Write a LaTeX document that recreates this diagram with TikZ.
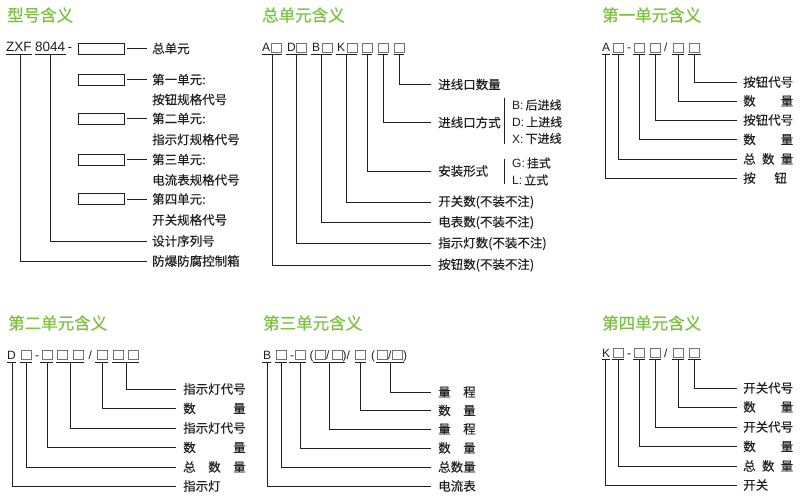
\documentclass[tikz,border=0pt]{standalone}
\usepackage{fontspec}
\setmainfont{Liberation Sans}
\newfontfamily\cjk[FakeBold=0.12]{Noto Sans CJK SC}
\newfontfamily\cjkt[FakeBold=0.8]{Noto Sans CJK SC}
\definecolor{titlegreen}{RGB}{125,194,66}
\definecolor{ink}{RGB}{35,31,32}
\tikzset{
  ttl/.style={anchor=west,inner sep=0pt,text=titlegreen,font=\cjkt\fontsize{16.5}{18}\selectfont},
  codebig/.style={anchor=base west,inner sep=0pt,text=ink,font=\fontsize{13.5}{15}\selectfont},
  code/.style={anchor=base west,inner sep=0pt,text=ink,font=\fontsize{12}{14}\selectfont},
  sq/.style={draw=black!55,line width=0.7pt,minimum width=10pt,minimum height=9pt,inner sep=0pt},
  rbox/.style={draw=ink,line width=0.8pt,minimum width=46pt,minimum height=11pt,inner sep=0pt},
  lab/.style={anchor=west,inner ysep=0pt,inner xsep=7pt,text=ink,font=\cjk\fontsize{12.5}{14}\selectfont},
  labA/.style={lab,inner xsep=5pt},
  labC/.style={lab,inner xsep=6pt},
  sub/.style={anchor=west,inner sep=0pt,text=ink,font=\fontsize{12}{14}\selectfont},
  ln/.style={draw=ink,line width=0.8pt},
}
\newcommand{\jst}[2]{\makebox[#1][s]{#2}}
\begin{document}
\begin{tikzpicture}[x=1pt,y=-1pt]
\useasboundingbox (0,0) rectangle (802,500);
\fill[white] (0,0) rectangle (802,500);

% ---------------- Panel 1 ----------------
\node[ttl] (t1) at (7,15) {型号含义};
\node[codebig] (zxf) at (6,52) {ZXF};
\node[codebig] (n8044) at (35,52) {8044};
\node[codebig] (d1) at (67.5,52) {-};
\draw[ln] (6,54.5) -- (32,54.5);
\draw[ln] (35,54.5) -- (66,54.5);
\coordinate (uz) at (20.5,54.5);
\coordinate (un) at (50.5,54.5);
\node[rbox] (r1) at (101,48.5) {};
\node[rbox] (r2) at (101,79.5) {};
\node[rbox] (r3) at (101,118.5) {};
\node[rbox] (r4) at (101,159.5) {};
\node[rbox] (r5) at (101,199) {};
\node[labA] (a0) at (147,48.5) {总单元};
\node[labA] (a1) at (147,79.5) {第一单元:};
\node[labA] (a1b) at (147,99.5) {按钮规格代号};
\node[labA] (a2) at (147,118.5) {第二单元:};
\node[labA] (a2b) at (147,139.5) {指示灯规格代号};
\node[labA] (a3) at (147,159.5) {第三单元:};
\node[labA] (a3b) at (147,180) {电流表规格代号};
\node[labA] (a4) at (147,199) {第四单元:};
\node[labA] (a4b) at (147,220) {开关规格代号};
\node[labA] (a5) at (147,241) {设计序列号};
\node[labA] (a6) at (147,261) {防爆防腐控制箱};
\draw[ln] ([xshift=3pt]r1.east) -- (a0.west);
\draw[ln] ([xshift=3pt]r2.east) -- (a1.west);
\draw[ln] ([xshift=3pt]r3.east) -- (a2.west);
\draw[ln] ([xshift=3pt]r4.east) -- (a3.west);
\draw[ln] ([xshift=3pt]r5.east) -- (a4.west);
\draw[ln] (un) |- (a5.west);
\draw[ln] (uz) |- (a6.west);

% ---------------- Panel 2 ----------------
\node[ttl] (t2) at (262,15) {总单元含义};
\node[code] (bA) at (262,51.5) {A};
\node[code] (bD) at (287,51.5) {D};
\node[code] (bB) at (312,51.5) {B};
\node[code] (bK) at (337,51.5) {K};
\node[sq] (s21) at (276,47.5) {};
\node[sq] (s22) at (301,47.5) {};
\node[sq] (s23) at (327,47.5) {};
\node[sq] (s24) at (352,47.5) {};
\node[sq] (s25) at (367,47.5) {};
\node[sq] (s26) at (383,47.5) {};
\node[sq] (s27) at (399,47.5) {};
\foreach \a/\b in {262/282,286/307,311/332,336/357,362/372,378/388,394/404}
  \draw[ln] (\a,54.5) -- (\b,54.5);
\coordinate (g1) at (272,54.5);
\coordinate (g2) at (296.5,54.5);
\coordinate (g3) at (321.5,54.5);
\coordinate (g4) at (346.5,54.5);
\coordinate (g5) at (367,54.5);
\coordinate (g6) at (383,54.5);
\coordinate (g7) at (399,54.5);
\node[lab] (b1) at (431,84.5) {进线口数量};
\node[lab] (b2) at (431,122.5) {进线口方式};
\node[lab] (b3) at (431,171) {安装形式};
\node[lab] (b4) at (431,202) {开关数(不装不注)};
\node[lab] (b5) at (431,222.5) {电表数(不装不注)};
\node[lab] (b6) at (431,243.5) {指示灯数(不装不注)};
\node[lab] (b7) at (431,265) {按钮数(不装不注)};
\draw[ln] (g7) |- (b1.west);
\draw[ln] (g6) |- (b2.west);
\draw[ln] (g5) |- (b3.west);
\draw[ln] (g4) |- (b4.west);
\draw[ln] (g3) |- (b5.west);
\draw[ln] (g2) |- (b6.west);
\draw[ln] (g1) |- (b7.west);
\draw[ln] (504,98) -- (504,144);
\draw[ln] (504,159) -- (504,184);
\node[sub] (c1) at (512,105) {B:\,{\cjk 后进线}};
\node[sub] (c2) at (512,122) {D:\,{\cjk 上进线}};
\node[sub] (c3) at (512,138.5) {X:\,{\cjk 下进线}};
\node[sub] (c4) at (512,163) {G:\,{\cjk 挂式}};
\node[sub] (c5) at (512,180) {L:\,{\cjk 立式}};

% ---------------- Panel 3 ----------------
\node[ttl] (t3) at (602,15) {第一单元含义};
\node[code] (pA) at (602,51.5) {A};
\node[code] (p3d) at (627,51.5) {-};
\node[code] (p3s) at (664,51.5) {/};
\node[sq] (s31) at (618,47.5) {};
\node[sq] (s32) at (639,47.5) {};
\node[sq] (s33) at (655,47.5) {};
\node[sq] (s34) at (678,47.5) {};
\node[sq] (s35) at (694.5,47.5) {};
\foreach \a/\b in {602/610,612/624,633/645,649/661,672/684,688/701}
  \draw[ln] (\a,54.5) -- (\b,54.5);
\coordinate (h1) at (605.5,54.5);
\coordinate (h2) at (618,54.5);
\coordinate (h3) at (639,54.5);
\coordinate (h4) at (655,54.5);
\coordinate (h5) at (678,54.5);
\coordinate (h6) at (694.5,54.5);
\node[labC] (e1) at (737,82) {按钮代号};
\node[labC] (e2) at (737,101) {\jst{4em}{数\hfill 量}};
\node[labC] (e3) at (737,120) {按钮代号};
\node[labC] (e4) at (737,139.5) {\jst{4em}{数\hfill 量}};
\node[labC] (e5) at (737,159) {\jst{4em}{总\hfill 数\hfill 量}};
\node[labC] (e6) at (737,178) {\jst{3.5em}{按\hfill 钮}};
\draw[ln] (h6) |- (e1.west);
\draw[ln] (h5) |- (e2.west);
\draw[ln] (h4) |- (e3.west);
\draw[ln] (h3) |- (e4.west);
\draw[ln] (h2) |- (e5.west);
\draw[ln] (h1) |- (e6.west);

% ---------------- Panel 4 ----------------
\node[ttl] (t4) at (8,323) {第二单元含义};
\node[code] (qD) at (7,359.5) {D};
\node[code] (q4d) at (35,359.5) {-};
\node[code] (q4s) at (88.5,359.5) {/};
\node[sq] (s41) at (26,355) {};
\node[sq] (s42) at (47,355) {};
\node[sq] (s43) at (62,355) {};
\node[sq] (s44) at (78,355) {};
\node[sq] (s45) at (102,355) {};
\node[sq] (s46) at (118,355) {};
\node[sq] (s47) at (133,355) {};
\foreach \a/\b in {7/16,20/32,40/53,56/84,95/108,112/139}
  \draw[ln] (\a,362) -- (\b,362);
\coordinate (k1) at (12,362);
\coordinate (k2) at (26,362);
\coordinate (k3) at (47,362);
\coordinate (k4) at (70.5,362);
\coordinate (k5) at (102,362);
\coordinate (k6) at (126,362);
\node[lab] (f1) at (176,389) {指示灯代号};
\node[lab] (f2) at (176,408.5) {\jst{5em}{数\hfill 量}};
\node[lab] (f3) at (176,428) {指示灯代号};
\node[lab] (f4) at (176,447.5) {\jst{5em}{数\hfill 量}};
\node[lab] (f5) at (176,467) {\jst{5em}{总\hfill 数\hfill 量}};
\node[lab] (f6) at (176,486) {指示灯};
\draw[ln] (k6) |- (f1.west);
\draw[ln] (k5) |- (f2.west);
\draw[ln] (k4) |- (f3.west);
\draw[ln] (k3) |- (f4.west);
\draw[ln] (k2) |- (f5.west);
\draw[ln] (k1) |- (f6.west);

% ---------------- Panel 5 ----------------
\node[ttl] (t5) at (263,323) {第三单元含义};
\node[code] (mB) at (263,359.5) {B};
\node[code] (m1) at (290,359.5) {-};
\node[code] (m2) at (309.5,359.5) {(};
\node[code] (m3) at (326,359.5) {/};
\node[code] (m4) at (342.5,359.5) {)/};
\node[code] (m5) at (371,359.5) {(};
\node[code] (m6) at (388,359.5) {/};
\node[code] (m7) at (403,359.5) {)};
\node[sq] (s51) at (281,355) {};
\node[sq] (s52) at (300,355) {};
\node[sq] (s53) at (320,355) {};
\node[sq] (s54) at (337,355) {};
\node[sq] (s55) at (360.5,355) {};
\node[sq] (s56) at (382,355) {};
\node[sq] (s57) at (397.5,355) {};
\foreach \a/\b in {262/271,275/287,289/306,313/345,355/366,376/404}
  \draw[ln] (\a,362) -- (\b,362);
\coordinate (w1) at (267,362);
\coordinate (w2) at (281,362);
\coordinate (w3) at (300,362);
\coordinate (w4) at (329,362);
\coordinate (w5) at (360.5,362);
\coordinate (w6) at (390,362);
\node[lab] (o1) at (431,392) {\jst{3em}{量\hfill 程}};
\node[lab] (o2) at (431,410.5) {\jst{3em}{数\hfill 量}};
\node[lab] (o3) at (431,429) {\jst{3em}{量\hfill 程}};
\node[lab] (o4) at (431,448) {\jst{3em}{数\hfill 量}};
\node[lab] (o5) at (431,467) {总数量};
\node[lab] (o6) at (431,486) {电流表};
\draw[ln] (w6) |- (o1.west);
\draw[ln] (w5) |- (o2.west);
\draw[ln] (w4) |- (o3.west);
\draw[ln] (w3) |- (o4.west);
\draw[ln] (w2) |- (o5.west);
\draw[ln] (w1) |- (o6.west);

% ---------------- Panel 6 ----------------
\node[ttl] (t6) at (602,323) {第四单元含义};
\node[code] (nK) at (602,357) {K};
\node[code] (n6d) at (627,357) {-};
\node[code] (n6s) at (664,357) {/};
\node[sq] (s61) at (618,352.5) {};
\node[sq] (s62) at (639,352.5) {};
\node[sq] (s63) at (655,352.5) {};
\node[sq] (s64) at (678,352.5) {};
\node[sq] (s65) at (694.5,352.5) {};
\foreach \a/\b in {602/610,612/624,633/645,649/661,672/684,688/701}
  \draw[ln] (\a,359.5) -- (\b,359.5);
\coordinate (v1) at (605.5,359.5);
\coordinate (v2) at (618,359.5);
\coordinate (v3) at (639,359.5);
\coordinate (v4) at (655,359.5);
\coordinate (v5) at (678,359.5);
\coordinate (v6) at (694.5,359.5);
\node[labC] (x1) at (737,388) {开关代号};
\node[labC] (x2) at (737,407) {\jst{4em}{数\hfill 量}};
\node[labC] (x3) at (737,427) {开关代号};
\node[labC] (x4) at (737,446.5) {\jst{4em}{数\hfill 量}};
\node[labC] (x5) at (737,466) {\jst{4em}{总\hfill 数\hfill 量}};
\node[labC] (x6) at (737,485) {开关};
\draw[ln] (v6) |- (x1.west);
\draw[ln] (v5) |- (x2.west);
\draw[ln] (v4) |- (x3.west);
\draw[ln] (v3) |- (x4.west);
\draw[ln] (v2) |- (x5.west);
\draw[ln] (v1) |- (x6.west);
\end{tikzpicture}
\end{document}
